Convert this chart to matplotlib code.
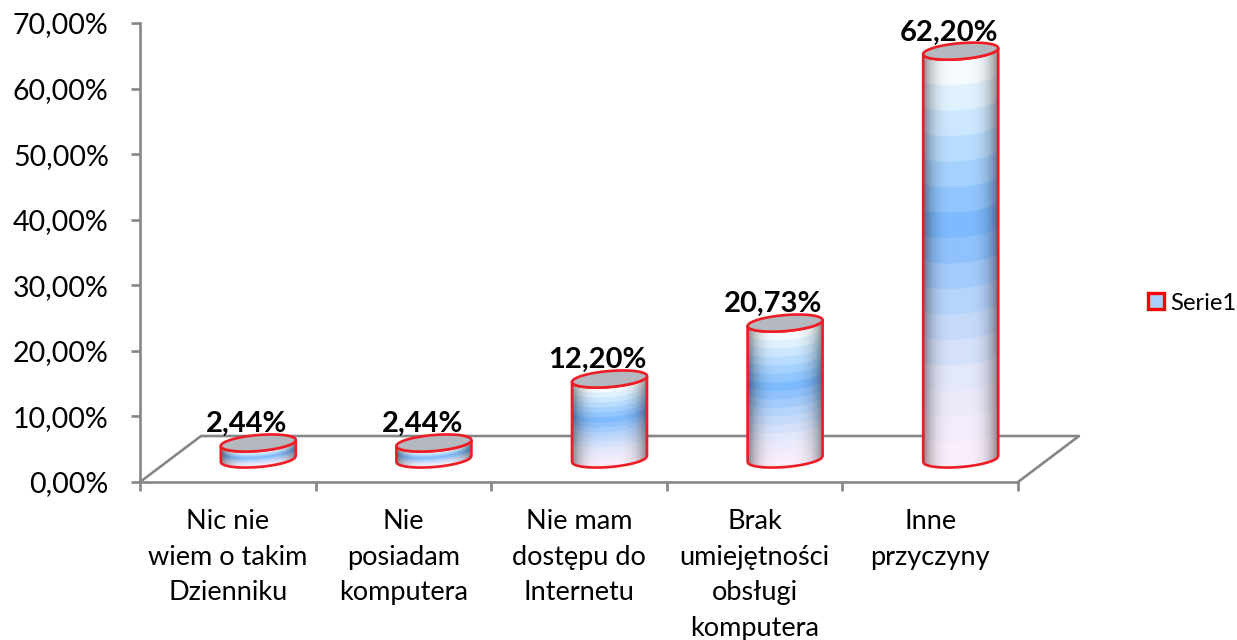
import numpy as np
import matplotlib
matplotlib.use('Agg')
import matplotlib.pyplot as plt
from matplotlib.patches import Polygon, Patch
from matplotlib.colors import to_rgb

kategorie = ['Nic nie\nwiem o takim\nDzienniku', 'Nie\nposiadam\nkomputera',
             'Nie mam\ndostępu do\nInternetu', 'Brak\numiejętności\nobsługi\nkomputera',
             'Inne\nprzyczyny']
wartosci = [2.44, 2.44, 12.20, 20.73, 62.20]
y_ticks = [0, 10, 20, 30, 40, 50, 60, 70]
seria = 'Serie1'

W, H = 1237, 640
SZARY = '#868686'
CZERWONY = '#EE1C25'

# geometry of the fake 3d, in axis units
GLEB_X, GLEB_Y = 61 / 175.6, 46 / 6.56     # floor depth
POL_X, POL_Y = GLEB_X / 2, GLEB_Y / 2      # bars stand in the middle of the floor
A = 37.5 / 175.6                           # cylinder half width
B = 8.0 / 6.56                             # ellipse half height
SKOS = 3.0 / 6.56                          # ellipse tilt

# vertical gradient of the fill
stop_v = [0.0, 0.22, 0.42, 0.59, 0.78, 0.93, 1.0]
stop_c = ['#FFF0FC', '#E4E8FB', '#B4D3FB', '#7DBAFF', '#B9DDFF', '#E8F6FF', '#FFFFFF']
stop_rgb = np.array([to_rgb(c) for c in stop_c])
PASMA = 16


def krzywa(u):
    # front arc of the ellipse, u from -1 to 1
    return -B * np.sqrt(np.clip(1 - u ** 2, 0, 1)) + SKOS * u


def walec(ax, cx, dol, gora):
    wys = gora - dol
    xs = np.linspace(-1, 1, 160)
    ys = np.linspace(dol - B - SKOS, gora + B + SKOS, 900)
    uu, yy = np.meshgrid(xs, ys)
    v = np.clip((yy - dol - krzywa(uu)) / wys, 0, 0.9999)
    v = (np.floor(v * PASMA) + 0.5) / PASMA
    img = np.dstack([np.interp(v, stop_v, stop_rgb[:, k]) for k in range(3)])
    cien = 1 - 0.45 * np.abs(uu) ** 3.5
    img = img * cien[..., None]

    t = np.linspace(-1, 1, 80)
    dolny = np.column_stack([cx + A * t, dol + krzywa(t)])
    gorny = np.column_stack([cx + A * t[::-1], gora + krzywa(t[::-1])])
    obrys = Polygon(np.vstack([dolny, gorny]), closed=True, transform=ax.transData)
    im = ax.imshow(img, extent=[cx - A, cx + A, ys[0], ys[-1]], origin='lower',
                   aspect='auto', zorder=3, interpolation='bilinear')
    im.set_clip_path(obrys)
    ax.add_patch(Polygon(np.vstack([dolny, gorny]), closed=True, fill=False,
                         edgecolor=CZERWONY, lw=1.9, zorder=4))

    kat = np.linspace(0, 2 * np.pi, 120)
    elipsa = np.column_stack([cx + A * np.cos(kat),
                              gora + B * np.sin(kat) + SKOS * np.cos(kat)])
    ax.add_patch(Polygon(elipsa, closed=True, facecolor='#B4B9C0',
                         edgecolor=CZERWONY, lw=1.9, zorder=5))


plt.rcParams['font.family'] = ['Lato', 'DejaVu Sans']

fig = plt.figure(figsize=(W / 100, H / 100), dpi=100)
ax = fig.add_axes([140 / W, (H - 482) / H, 878 / W, 459 / H])

x = np.arange(len(wartosci))
for i, val in enumerate(wartosci):
    walec(ax, i + 0.5 + POL_X, POL_Y, POL_Y + val)
    ax.annotate(f'{val:.2f}%'.replace('.', ','), (i + 0.5 + POL_X, POL_Y + val),
                xytext=(-8.5, 13.5), textcoords='offset points', ha='center', va='center',
                fontsize=21, fontweight='bold', color='black', zorder=6)

# floor
ax.plot([0, GLEB_X, 5 + GLEB_X, 5], [0, GLEB_Y, GLEB_Y, 0], color=SZARY, lw=1.9,
        clip_on=False, zorder=1)

ax.set_xlim(0, 5)
ax.set_ylim(0, 70)
ax.set_yticks(y_ticks)
ax.set_yticklabels([f'{t:.2f}%'.replace('.', ',') for t in y_ticks], fontsize=20.5)
ax.set_xticks(np.arange(6))
ax.set_xticklabels([])
ax.set_xticks(x + 0.5, labels=kategorie, minor=True, fontsize=19.5, linespacing=1.53)
ax.tick_params(axis='y', length=6.5, width=1.9, color=SZARY, pad=16)
ax.tick_params(axis='x', which='major', length=6.5, width=1.9, color=SZARY)
ax.tick_params(axis='x', which='minor', length=0, pad=19.5)

for s in ['top', 'right']:
    ax.spines[s].set_visible(False)
for s in ['left', 'bottom']:
    ax.spines[s].set_color(SZARY)
    ax.spines[s].set_linewidth(1.9)
ax.patch.set_visible(False)

uchwyt = Patch(facecolor='#A9D0FA', edgecolor='#FF0000', lw=2.4, label=seria)
fig.legend(handles=[uchwyt], loc='center left', bbox_to_anchor=(1148 / W, (H - 303) / H),
           frameon=False, fontsize=17.2, handlelength=0.65, handleheight=0.65,
           handletextpad=0.3, borderpad=0, borderaxespad=0)

fig.savefig('out.png', dpi=100)
